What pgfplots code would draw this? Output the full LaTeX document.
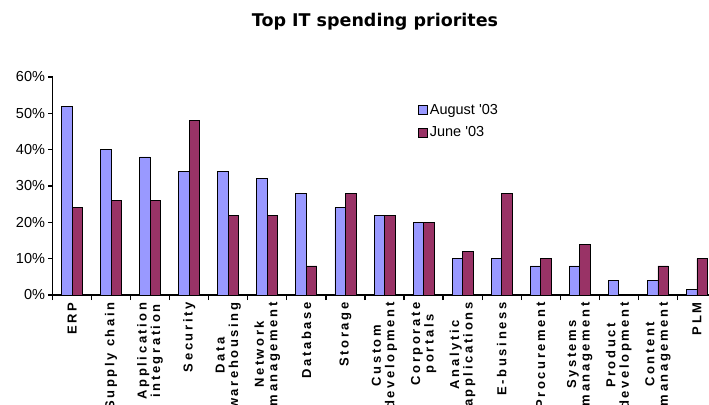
\documentclass[border=0pt]{standalone}
\usepackage{fontspec}
\setmainfont{Liberation Sans}
\newfontfamily\tickfont{Liberation Sans}
\newfontfamily\titlefont{DejaVu Sans}
\newfontfamily\lblfont[LetterSpace=20]{Liberation Sans}
\usepackage{pgfplots}
\pgfplotsset{compat=1.18}
\definecolor{aug}{HTML}{9999FF}
\definecolor{jun}{HTML}{993366}
\pgfplotsset{
  sqlegend/.style={legend image code/.code={
    \draw[##1,draw=black,line width=0.6pt] (0pt,-4.5pt) rectangle (9pt,4.5pt);}},
}

\begin{document}
\begin{tikzpicture}
\useasboundingbox (-52.5pt,-109pt) rectangle (656.5pt,295pt);
\begin{axis}[
  at={(0pt,0pt)}, anchor=south west,
  scale only axis, width=664pt, height=218pt,
  ybar=0pt, bar width=10.5pt,
  xmin=-0.5, xmax=16.5, ymin=0, ymax=60,
  axis lines=left,
  axis line style={-, line width=1.6pt},
  xtick={0,...,16},
  xticklabels={ERP, Supply chain, Application\\integration, Security,
    Data\\warehousing, Network\\management, Database, Storage,
    Custom\\development, Corporate\\portals, Analytic\\applications,
    E-business, Procurement, Systems\\management, Product\\development,
    Content\\management, PLM},
  major x tick style={draw=none},
  minor xtick={-0.5,0.5,...,16.5},
  minor tick length=5pt,
  tick align=outside,
  tick style={black, line width=1.2pt},
  xticklabel style={rotate=90, anchor=east, align=center,
    font=\lblfont\bfseries\fontsize{13}{13.5}\selectfont},
  ytick={0,10,...,60},
  yticklabel={\pgfmathprintnumber{\tick}\%},
  major tick length=4pt,
  yticklabel style={font=\tickfont\fontsize{14.5}{16}\selectfont},
  /pgf/number format/assume math mode=true,
  legend style={at={(rel axis cs:0.546,0.8945)}, anchor=north west,
    draw=none, fill=none, row sep=7pt,
    font=\tickfont\fontsize{14.5}{17}\selectfont},
  legend cell align=left,
]
\addplot[fill=aug, draw=black, line width=0.8pt, sqlegend] coordinates {
  (0,52) (1,40) (2,38) (3,34) (4,34) (5,32) (6,28) (7,24) (8,22)
  (9,20) (10,10) (11,10) (12,8) (13,8) (14,4) (15,4) (16,1.5)};
\addplot[fill=jun, draw=black, line width=0.8pt, sqlegend] coordinates {
  (0,24) (1,26) (2,26) (3,48) (4,22) (5,22) (6,8) (7,28) (8,22)
  (9,20) (10,12) (11,28) (12,10) (13,14) (15,8) (16,10)};
\legend{August '03, June '03}
\end{axis}
\node[font=\titlefont\bfseries\fontsize{17.5}{20}\selectfont] at (322.5pt,273.5pt)
  {Top IT spending priorites};
\end{tikzpicture}
\end{document}
